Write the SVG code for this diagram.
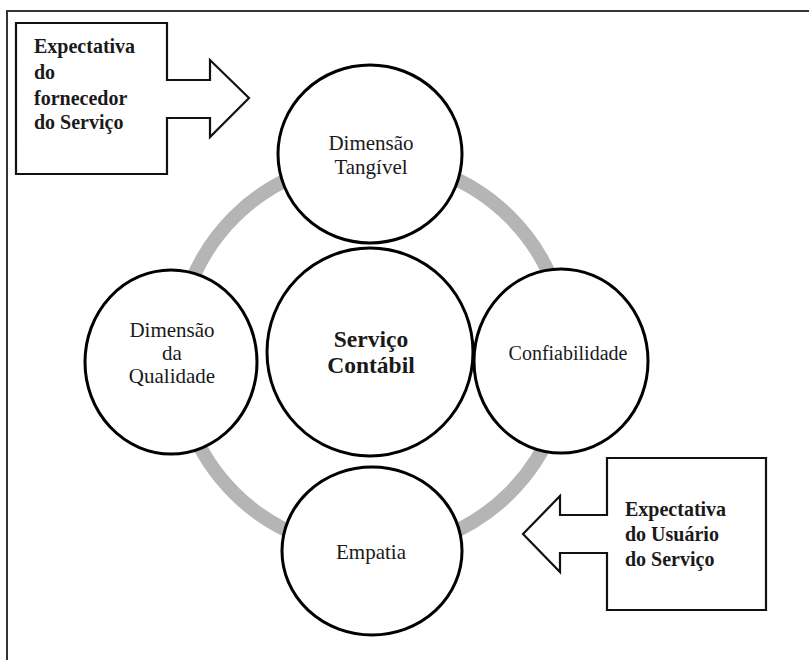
<svg xmlns="http://www.w3.org/2000/svg" width="809" height="660" viewBox="0 0 809 660">
<style>
.frame{fill:none;stroke:#333;stroke-width:2}
.circ{fill:#fff;stroke:#000;stroke-width:3}
.box{fill:#fff;stroke:#111;stroke-width:2.2;stroke-linejoin:miter}
.ring{fill:none;stroke:#b5b5b5;stroke-width:14}
text{font-family:'Liberation Serif','DejaVu Serif',serif;fill:#1a1a1a}
.lbl{font-size:21px;text-anchor:middle}
.ctr{font-size:23.5px;font-weight:bold;text-anchor:middle}
.bx{font-size:20px;font-weight:bold}
</style>
<rect width="809" height="660" fill="#fff"/>
<rect class="frame" x="7" y="11" width="804" height="660"/>
<g id="connectors">
<circle class="ring" cx="372" cy="355" r="195"/>
</g>
<g id="fornecedor">
<path class="box" d="M16,23 H167 V80 H210 V60 L249,98 L210,137 V118 H167 V174 H16 Z"/>
<text class="bx" x="34" y="53">Expectativa</text>
<text class="bx" x="34" y="79">do</text>
<text class="bx" x="34" y="105">fornecedor</text>
<text class="bx" x="34" y="129">do Serviço</text>
</g>
<g id="usuario">
<path class="box" d="M607,458 H766 V610 H607 V553 H560 V572 L523,534 L560,496 V515 H607 Z"/>
<text class="bx" x="625" y="516">Expectativa</text>
<text class="bx" x="625" y="541">do Usuário</text>
<text class="bx" x="625" y="566">do Serviço</text>
</g>
<g id="tangivel">
<ellipse class="circ" cx="370" cy="154" rx="92" ry="89"/>
<text class="lbl" x="371" y="150">Dimensão</text>
<text class="lbl" x="371" y="174">Tangível</text>
</g>
<g id="qualidade">
<ellipse class="circ" cx="171" cy="362" rx="86" ry="92"/>
<text class="lbl" x="172" y="337">Dimensão</text>
<text class="lbl" x="172" y="360">da</text>
<text class="lbl" x="172" y="383">Qualidade</text>
</g>
<g id="servico">
<ellipse class="circ" cx="370" cy="352" rx="103" ry="104"/>
<text class="ctr" x="371" y="347">Serviço</text>
<text class="ctr" x="371" y="373">Contábil</text>
</g>
<g id="confiabilidade">
<ellipse class="circ" cx="561" cy="361" rx="87" ry="92"/>
<text class="lbl" x="568" y="360" style="font-size:20px">Confiabilidade</text>
</g>
<g id="empatia">
<ellipse class="circ" cx="372" cy="551" rx="90" ry="84"/>
<text class="lbl" x="371" y="559">Empatia</text>
</g>
</svg>
